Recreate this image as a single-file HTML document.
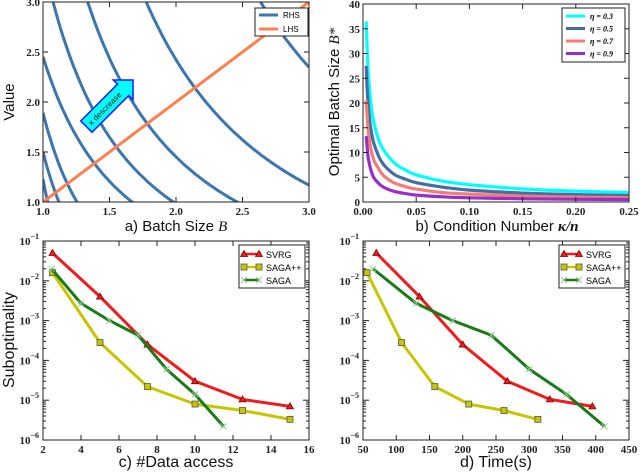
<!DOCTYPE html>
<html><head><meta charset="utf-8">
<style>
html,body{margin:0;padding:0;background:#fff;}
svg{display:block;}
text{font-family:"Liberation Serif",serif;}
.sans{font-family:"Liberation Sans",sans-serif;}
</style></head>
<body>
<svg id="fig" width="640" height="472" viewBox="0 0 640 472" xmlns="http://www.w3.org/2000/svg"></svg>
<script>
// ---- Panel a data ----
const aRhsBottom = [1.035, 1.12, 1.256, 1.67, 1.98, 2.46, 3.27, 4.70];
const aRhsPower = [6.0, 3.6, 2.8, 1.75, 1.8, 1.8, 1.8, 1.9];
const aLhsX = [1.0, 3.0];
const aLhsY = [1.0, 3.0];
const aXTicks = [1.0, 1.5, 2.0, 2.5, 3.0];
const aYTicks = [1.0, 1.5, 2.0, 2.5, 3.0];
// ---- Panel b data ----
const bX = [0.003, 0.004, 0.005, 0.007, 0.01, 0.015, 0.02, 0.03, 0.04, 0.05, 0.075, 0.1, 0.15, 0.2, 0.25];
const bEta03 = [36.5, 30.1, 26, 20.7, 16.3, 12.4, 10.3, 7.8, 6.45, 5.5, 4.2, 3.5, 2.65, 2.2, 1.9];
const bEta05 = [27.5, 22.5, 19.5, 15.3, 12, 9.1, 7.4, 5.5, 4.6, 3.9, 3.0, 2.4, 1.8, 1.5, 1.3];
const bEta07 = [20.5, 17, 14.2, 11.2, 8.6, 6.6, 5.2, 3.8, 3.1, 2.6, 1.9, 1.6, 1.2, 1.0, 0.9];
const bEta09 = [13.3, 10.8, 8.8, 6.8, 5.0, 3.7, 2.9, 2.1, 1.7, 1.4, 1.05, 0.85, 0.65, 0.55, 0.5];
const bLabels = ["η = 0.3", "η = 0.5", "η = 0.7", "η = 0.9"];
const bXTicks = [0, 0.05, 0.1, 0.15, 0.2, 0.25];
const bXTickLabels = ["0.00", "0.05", "0.10", "0.15", "0.20", "0.25"];
const bYTicks = [0, 5, 10, 15, 20, 25, 30, 35, 40];
// ---- Panel c data ----
const cSvrgX = [2.5, 5, 7.5, 10, 12.5, 15];
const cSvrgY = [5e-2, 4e-3, 2.5e-4, 3e-5, 1.05e-5, 7e-6];
const cSagappX = [2.5, 5, 7.5, 10, 12.5, 15];
const cSagappY = [1.6e-2, 2.8e-4, 2.2e-5, 8e-6, 5.5e-6, 3.3e-6];
const cSagaX = [2.45, 4, 5.5, 7, 8.5, 10, 11.5];
const cSagaY = [2e-2, 2.7e-3, 1e-3, 4.3e-4, 6e-5, 1.4e-5, 2.2e-6];
const cXTicks = [2, 4, 6, 8, 10, 12, 14, 16];
// ---- Panel d data ----
const dSvrgX = [70, 135, 200, 267, 331, 395];
const dSvrgY = [5e-2, 4e-3, 2.5e-4, 3e-5, 1.05e-5, 7e-6];
const dSagappX = [56, 108, 158, 209, 262, 313];
const dSagappY = [1.6e-2, 2.8e-4, 2.2e-5, 8e-6, 5.5e-6, 3.3e-6];
const dSagaX = [65, 130, 185, 243, 300, 356, 413];
const dSagaY = [2e-2, 2.7e-3, 1e-3, 4.3e-4, 6e-5, 1.4e-5, 2.2e-6];
const dXTicks = [50, 100, 150, 200, 250, 300, 350, 400, 450];
const logExps = [-6, -5, -4, -3, -2, -1];

const NS = "http://www.w3.org/2000/svg";
const svg = document.getElementById("fig");
function el(tag, attrs, parent, txt) {
  const e = document.createElementNS(NS, tag);
  for (const k in attrs) e.setAttribute(k, attrs[k]);
  if (txt !== undefined) e.textContent = txt;
  (parent || svg).appendChild(e);
  return e;
}
function linScale(d0, d1, r0, r1) { return v => r0 + (v - d0) / (d1 - d0) * (r1 - r0); }
function logScale(d0, d1, r0, r1) { return v => r0 + (Math.log10(v) - d0) / (d1 - d0) * (r1 - r0); }

function frame(g, x0, y0, x1, y1) {
  const r = el("rect", {x: x0, y: y0, width: x1 - x0, height: y1 - y0, fill: "none", stroke: "#222", "stroke-width": 1}, g);
  
  
}
function xTicks(g, ticks, labels, sx, y0, y1) {
  ticks.forEach((t, i) => {
    const x = sx(t);
    el("line", {x1: x, x2: x, y1: y1, y2: y1 - 5, stroke: "#222"}, g);
    el("line", {x1: x, x2: x, y1: y0, y2: y0 + 5, stroke: "#222"}, g);
    const tx = el("text", {x: x, y: y1 + 13, "text-anchor": "middle", "font-size": 11, "font-weight": "bold", fill: "#222"}, g, labels[i]);
    
    
  });
}
function yTicks(g, ticks, labels, sy, x0, x1) {
  ticks.forEach((t, i) => {
    const y = sy(t);
    el("line", {x1: x0, x2: x0 + 5, y1: y, y2: y, stroke: "#222"}, g);
    el("line", {x1: x1, x2: x1 - 5, y1: y, y2: y, stroke: "#222"}, g);
    const tx = el("text", {x: x0 - 3, y: y + 4, "text-anchor": "end", "font-size": 11, "font-weight": "bold", fill: "#222"}, g, labels[i]);
    
    
  });
}
function logYTicks(g, sy, x0, x1) {
  logExps.forEach(e => {
    const y = sy(Math.pow(10, e));
    el("line", {x1: x0, x2: x0 + 6, y1: y, y2: y, stroke: "#222"}, g);
    el("line", {x1: x1, x2: x1 - 6, y1: y, y2: y, stroke: "#222"}, g);
    const tx = el("text", {x: x0 - 4, y: y + 4, "text-anchor": "end", "font-size": 11, "font-weight": "bold", fill: "#222"}, g);
    
    
    el("tspan", {}, tx, "10");
    el("tspan", {dy: -6, "font-size": 8}, tx, "−" + (-e));
    if (e < -1) for (let m = 2; m <= 9; m++) {
      const ym = sy(m * Math.pow(10, e));
      el("line", {x1: x0, x2: x0 + 3, y1: ym, y2: ym, stroke: "#222"}, g);
      el("line", {x1: x1, x2: x1 - 3, y1: ym, y2: ym, stroke: "#222"}, g);
    }
  });
}
function poly(g, xs, ys, sx, sy, color, w, name) {
  const pts = xs.map((x, i) => sx(x).toFixed(1) + "," + sy(ys[i]).toFixed(1)).join(" ");
  const p = el("polyline", {points: pts, fill: "none", stroke: color, "stroke-width": w, "stroke-linejoin": "round"}, g);
  
  
  return p;
}
function smooth(g, xs, ys, sx, sy, color, w, name) {
  const P = xs.map((x, i) => [sx(x), sy(ys[i])]);
  let d = `M${P[0][0].toFixed(1)},${P[0][1].toFixed(1)}`;
  for (let i = 0; i < P.length - 1; i++) {
    const p0 = P[Math.max(0, i - 1)], p1 = P[i], p2 = P[i + 1], p3 = P[Math.min(P.length - 1, i + 2)];
    const c1 = [p1[0] + (p2[0] - p0[0]) / 6, p1[1] + (p2[1] - p0[1]) / 6];
    const c2 = [p2[0] - (p3[0] - p1[0]) / 6, p2[1] - (p3[1] - p1[1]) / 6];
    d += `C${c1[0].toFixed(1)},${c1[1].toFixed(1)} ${c2[0].toFixed(1)},${c2[1].toFixed(1)} ${p2[0].toFixed(1)},${p2[1].toFixed(1)}`;
  }
  const p = el("path", {d: d, fill: "none", stroke: color, "stroke-width": w, "stroke-linejoin": "round"}, g);
  
  
}
function marker(g, type, x, y, color, name) {
  let m;
  if (type === "tri") m = el("polygon", {points: `${x},${y-3.5} ${x-3.5},${y+2.5} ${x+3.5},${y+2.5}`, fill: color, stroke: "#800", "stroke-width": 0.8}, g);
  else if (type === "sq") m = el("rect", {x: x - 3, y: y - 3, width: 6, height: 6, fill: "#c8c400", stroke: "#555", "stroke-width": 0.8}, g);
  else { m = el("path", {d: `M${x-3},${y-3}L${x+3},${y+3}M${x-3},${y+3}L${x+3},${y-3}`, stroke: "#8c8", "stroke-width": 1}, g); }
  
  
}
function label(g, x, y, txt, size, rot, name) {
  const t = el("text", {x: x, y: y, "text-anchor": "middle", "font-size": size, class: "sans", fill: "#111"}, g);
  if (rot) t.setAttribute("transform", `rotate(-90 ${x} ${y})`);
  
  
  return t;
}

// ================= Panel a =================
(function () {
  const g = el("g", {});
  
  
  const x0 = 43, x1 = 309, y0 = 2, y1 = 202;
  const sx = linScale(1, 3, x0, x1), sy = linScale(1, 3, y1, y0);
  const cp = el("clipPath", {id: "clipA"}, g);
  el("rect", {x: x0, y: y0, width: x1 - x0, height: y1 - y0}, cp);
  const cg = el("g", {"clip-path": "url(#clipA)"}, g);
  aRhsBottom.forEach((b, i) => {
    const xs = [], ys = [];
    for (let k = 0; k <= 120; k++) { const B = 1 + 2 * k / 120; xs.push(B); ys.push(Math.pow(b / B, aRhsPower[i])); }
    poly(cg, xs, ys.map(v => Math.min(v, 3.5)), sx, sy, "#3b76af", 3, "rhs-curve");
  });
  poly(cg, aLhsX, aLhsY, sx, sy, "#ff7f50", 3, "lhs-line");
  frame(g, x0, y0, x1, y1);
  xTicks(g, aXTicks, aXTicks.map(v => v.toFixed(1)), sx, y0, y1);
  yTicks(g, aYTicks, aYTicks.map(v => v.toFixed(1)), sy, x0, x1);
  const ag = el("g", {transform: "translate(109,104) rotate(-45)"}, g);
  
  
  el("polygon", {points: "-32,-8 20,-8 20,-14 34,0 20,14 20,8 -32,8", fill: "#00ffff", stroke: "#1a1aff", "stroke-width": 1.5}, ag);
  el("text", {x: -6, y: 3, "text-anchor": "middle", "font-size": 8, class: "sans", fill: "#111"}, ag, "κ descrease");
  const lg = el("g", {}, g);
  
  
  el("rect", {x: 255, y: 8, width: 53, height: 28, fill: "#fff", stroke: "#222"}, lg);
  el("line", {x1: 259, x2: 278, y1: 15, y2: 15, stroke: "#3b76af", "stroke-width": 3}, lg);
  el("text", {x: 283, y: 18, "font-size": 8, class: "sans"}, lg, "RHS");
  el("line", {x1: 259, x2: 278, y1: 29, y2: 29, stroke: "#ff7f50", "stroke-width": 3}, lg);
  el("text", {x: 283, y: 32, "font-size": 8, class: "sans"}, lg, "LHS");
  label(g, 14, 102, "Value", 15, true, "y-axis-title-a").textContent = "Value";
  const xl = label(g, 176, 231, "", 15, false, "x-axis-title-a");
  xl.textContent = "a) Batch Size ";
  el("tspan", {"font-style": "italic", "font-family": "Liberation Serif, serif"}, xl, "B");
})();

// ================= Panel b =================
(function () {
  const g = el("g", {});
  
  
  const x0 = 363, x1 = 629, y0 = 4, y1 = 202;
  const sx = linScale(0, 0.25, x0, x1), sy = linScale(0, 40, y1, y0);
  const cols = ["#00ffff", "#3f6fa6", "#f47c74", "#9a2ecb"];
  [bEta03, bEta05, bEta07, bEta09].forEach((s, i) => smooth(g, bX, s, sx, sy, cols[i], 3.2, "eta-curve-" + i));
  frame(g, x0, y0, x1, y1);
  xTicks(g, bXTicks, bXTickLabels, sx, y0, y1);
  yTicks(g, bYTicks, bYTicks.map(String), sy, x0, x1);
  const lg = el("g", {}, g);
  
  
  el("rect", {x: 562, y: 8, width: 63, height: 54, fill: "#fff", stroke: "#222"}, lg);
  bLabels.forEach((t, i) => {
    const y = 16 + i * 12.5;
    el("line", {x1: 566, x2: 585, y1: y, y2: y, stroke: cols[i], "stroke-width": 3}, lg);
    el("text", {x: 590, y: y + 3, "font-size": 8, "font-style": "italic", "font-weight": "bold"}, lg, t);
  });
  const yl = label(g, 339, 102, "", 15, true, "y-axis-title-b");
  yl.textContent = "Optimal Batch Size ";
  el("tspan", {"font-style": "italic", "font-family": "Liberation Serif, serif"}, yl, "B*");
  const xl = label(g, 497, 231, "", 15, false, "x-axis-title-b");
  xl.textContent = "b) Condition Number ";
  el("tspan", {"font-style": "italic", "font-family": "Liberation Serif, serif", "font-weight": "bold"}, xl, "κ/n");
})();

// ================= Panels c, d =================
function logPanel(name, x0, x1, xd0, xd1, ticks, series, xtitle, ytitle) {
  const g = el("g", {});
  
  
  const y0 = 241, y1 = 440;
  const sx = linScale(xd0, xd1, x0, x1), sy = logScale(-6, -1, y1, y0);
  series.forEach(s => {
    poly(g, s.x, s.y, sx, sy, s.color, 3, s.name + "-line");
    s.x.forEach((v, i) => marker(g, s.m, sx(v), sy(s.y[i]), s.color, s.name + "-marker"));
  });
  frame(g, x0, y0, x1, y1);
  xTicks(g, ticks, ticks.map(String), sx, y0, y1);
  logYTicks(g, sy, x0, x1);
  const lg = el("g", {}, g);
  
  
  const lx = x0 + 196;
  el("rect", {x: lx, y: 245, width: 66, height: 43, fill: "#fff", stroke: "#222"}, lg);
  series.forEach((s, i) => {
    const y = 254 + i * 13;
    el("line", {x1: lx + 5, x2: lx + 20, y1: y, y2: y, stroke: s.color, "stroke-width": 2.5}, lg);
    marker(lg, s.m, lx + 5, y, s.color, "legend-marker");
    marker(lg, s.m, lx + 20, y, s.color, "legend-marker");
    el("text", {x: lx + 27, y: y + 4, "font-size": 9, class: "sans"}, lg, s.label);
  });
  label(g, (x0 + x1) / 2, 467, "", 16, false, "x-axis-title-" + name).textContent = xtitle;
  if (ytitle) label(g, 14, 340, "", 16, true, "y-axis-title-" + name).textContent = ytitle;
}
logPanel("panel-c", 43, 309, 2, 16, cXTicks, [
  {x: cSvrgX, y: cSvrgY, color: "#ee1c1c", m: "tri", name: "svrg", label: "SVRG"},
  {x: cSagappX, y: cSagappY, color: "#c8c400", m: "sq", name: "sagapp", label: "SAGA++"},
  {x: cSagaX, y: cSagaY, color: "#197a19", m: "x", name: "saga", label: "SAGA"}
], "c) #Data access", "Suboptimality");
logPanel("panel-d", 363, 629, 50, 450, dXTicks, [
  {x: dSvrgX, y: dSvrgY, color: "#ee1c1c", m: "tri", name: "svrg", label: "SVRG"},
  {x: dSagappX, y: dSagappY, color: "#c8c400", m: "sq", name: "sagapp", label: "SAGA++"},
  {x: dSagaX, y: dSagaY, color: "#197a19", m: "x", name: "saga", label: "SAGA"}
], "d) Time(s)", null);
</script>
</body></html>
